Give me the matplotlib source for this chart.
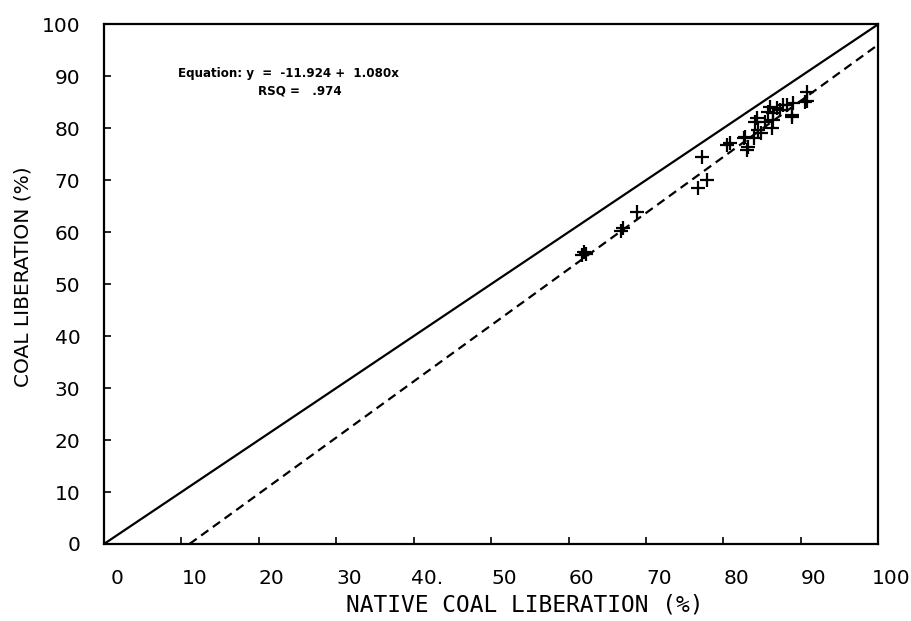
import numpy as np
import matplotlib.pyplot as plt
from matplotlib.transforms import ScaledTranslation

# native vs measured coal liberation (%)
native = [61.8, 62.0, 62.3, 67.0, 66.8, 68.9, 76.7, 77.3, 77.9, 80.5, 80.9,
          82.6, 82.8, 83.1, 83.2, 83.9, 84.1, 84.4, 84.5, 84.8, 85.4, 85.8,
          86.0, 86.3, 86.4, 86.4, 86.9, 87.3, 87.7, 88.2, 88.9, 88.9, 89.0,
          90.6, 90.8, 90.8]
coal = [55.6, 56.1, 55.8, 60.8, 60.2, 63.8, 68.4, 74.4, 70.0, 76.7, 77.1,
        78.1, 78.3, 75.8, 76.3, 78.1, 81.2, 81.9, 79.6, 79.0, 81.2, 83.1,
        84.0, 80.0, 81.5, 82.9, 83.8, 83.5, 84.4, 84.4, 82.5, 82.2, 84.8,
        85.0, 85.2, 86.9]

intercept = -11.924
slope = 1.080
rsq = .974

ticks = np.arange(0, 101, 10)
xlabels = ['0', '10', '20', '30', '40.', '50', '60', '70', '80', '90', '100']

fig = plt.figure(figsize=(9.12, 6.21), dpi=100)
ax = fig.add_axes([0.114, 0.124, 0.849, 0.837])

ax.plot([0, 100], [0, 100], color='black', lw=1.6)
xs = np.array([-intercept / slope, 100])
ax.plot(xs, intercept + slope * xs, color='black', lw=1.6, ls=(0, (4, 2.5)))
ax.plot(native, coal, '+', color='black', ms=9.5, mew=1.6)

ax.set_xlim(0, 100)
ax.set_ylim(0, 100)
ax.set_xticks(ticks)
ax.set_xticklabels(xlabels)
ax.set_yticks(ticks)
ax.tick_params(direction='in', length=5, width=1.2, labelsize=14.5)
ax.tick_params(axis='x', pad=18)
ax.tick_params(axis='y', pad=17)
for lab in ax.get_xticklabels():
    lab.set_transform(lab.get_transform() + ScaledTranslation(0.13, 0, fig.dpi_scale_trans))
for s in ax.spines.values():
    s.set_linewidth(1.6)

# axis titles (the original uses a wide plotter font)
fig.text(525 / 912, 1 - 605 / 621, 'NATIVE COAL LIBERATION (%)', ha='center', va='center',
         family='DejaVu Sans Mono', fontsize=16.5)
fig.text(23 / 912, 1 - 277 / 621, 'COAL LIBERATION (%)', ha='center', va='center',
         rotation=90, fontsize=14.5)

ax.text(0.0956, 0.905, 'Equation: y  =  %.3f +  %.3fx' % (intercept, slope),
        transform=ax.transAxes, fontsize=8.6, fontweight='bold', va='center')
ax.text(0.199, 0.871, 'RSQ =   %s' % ('%.3f' % rsq)[1:],
        transform=ax.transAxes, fontsize=8.6, fontweight='bold', va='center')

fig.savefig('out.png', dpi=100)
